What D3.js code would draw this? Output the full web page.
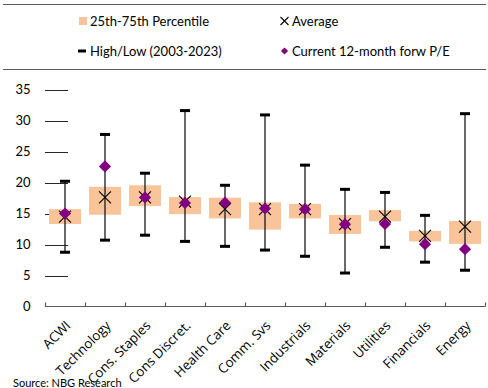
<!DOCTYPE html>
<html lang="en">
<head>
<meta charset="UTF-8">
<script src="https://d3js.org/d3.v7.min.js"></script>
<style>
    html, body { margin: 0; padding: 0; background: #fff; }
    svg text { font-family: 'Lato', sans-serif; fill: #000; }
    svg text.xlabel { font-family: 'Open Sans', sans-serif; }
</style>
</head>
<body>
<div id="chart"></div>
<script>

// values
var categories = ['ACWI', 'Technology', 'Cons. Staples', 'Cons Discret.', 'Health Care',
    'Comm. Svs', 'Industrials', 'Materials', 'Utilities', 'Financials', 'Energy'];
var p25 = [13.3, 14.8, 16.2, 14.9, 14.2, 12.4, 14.2, 11.7, 13.75, 10.5, 10.1];
var p75 = [15.7, 19.3, 19.55, 17.65, 17.55, 16.8, 16.55, 14.75, 15.55, 12.2, 13.8];
var high = [20.2, 27.75, 21.5, 31.6, 19.55, 30.9, 22.8, 18.9, 18.4, 14.7, 31.1];
var low = [8.75, 10.7, 11.5, 10.5, 9.7, 9.1, 8.1, 5.4, 9.55, 7.15, 5.85];
var average = [14.5, 17.6, 17.6, 16.9, 15.7, 15.7, 15.7, 13.3, 14.5, 11.4, 12.9];
var current = [15.0, 22.6, 17.6, 16.7, 16.75, 15.8, 15.7, 13.25, 13.3, 10.05, 9.25];
var yTicks = [0, 5, 10, 15, 20, 25, 30, 35];

var width = 488,
    height = 388;

var svg = d3.select('#chart')
    .append('svg')
    .attr('width', width)
    .attr('height', height);

var x_scale = d3.scaleBand()
    .domain(categories)
    .range([45, 485])
    .padding(0);

var y_scale = d3.scaleLinear()
    .domain([0, 35])
    .range([306.5, 89.5]);

var data = categories.map(function(c, i) {
    return {cat: c, p25: p25[i], p75: p75[i], high: high[i], low: low[i], avg: average[i], cur: current[i]};
});

// frame lines round the legend
svg.append('line').attr('x1', 3).attr('x2', 486).attr('y1', 4.5).attr('y2', 4.5)
    .attr('stroke', '#595959').attr('stroke-width', 1.2);
svg.append('line').attr('x1', 3).attr('x2', 486).attr('y1', 69.5).attr('y2', 69.5)
    .attr('stroke', '#595959').attr('stroke-width', 1.2);

// y ticks (short stubs like the original)
var yAxis = svg.append('g').attr('class', 'y axis');
yAxis.selectAll('.stub')
    .data(yTicks.filter(function(d) { return d > 0; }))
    .enter().append('line')
    .attr('x1', 45).attr('x2', 68)
    .attr('y1', function(d) { return Math.round(y_scale(d)) + 0.5; })
    .attr('y2', function(d) { return Math.round(y_scale(d)) + 0.5; })
    .attr('stroke', '#262626').attr('stroke-width', 1);
yAxis.selectAll('.lbl')
    .data(yTicks)
    .enter().append('text')
    .attr('x', 30.5)
    .attr('y', function(d) { return y_scale(d); })
    .attr('dy', '0.35em')
    .attr('text-anchor', 'end')
    .style('font-size', '13px')
    .text(function(d) { return d; });

// x axis
var x_axis = d3.axisBottom(x_scale).tickSize(0).tickFormat('');
var gx = svg.append('g')
    .attr('class', 'x axis')
    .attr('transform', 'translate(0,306.5)')
    .call(x_axis);
gx.select('.domain').remove();
gx.append('line').attr('x1', 45).attr('x2', 485.5).attr('y1', 0).attr('y2', 0)
    .attr('stroke', '#595959').attr('stroke-width', 1.2);
gx.selectAll('.sep')
    .data(categories.concat(['end']))
    .enter().append('line')
    .attr('x1', function(d, i) { return Math.round(x_scale.range()[0] + i * x_scale.bandwidth()) + 0.5; })
    .attr('x2', function(d, i) { return Math.round(x_scale.range()[0] + i * x_scale.bandwidth()) + 0.5; })
    .attr('y1', 0).attr('y2', -4)
    .attr('stroke', '#595959').attr('stroke-width', 1.2);

svg.selectAll('.xlabel')
    .data(categories)
    .enter().append('text')
    .attr('class', 'xlabel')
    .attr('text-anchor', 'end')
    .attr('transform', function(d) {
        return 'translate(' + (x_scale(d) + x_scale.bandwidth() / 2 + 6.5) + ',326.5) rotate(-45)';
    })
    .style('font-size', '13.3px')
    .text(function(d) { return d; });

// boxes
var bw = x_scale.bandwidth() * 0.8;
svg.selectAll('.bar')
    .data(data)
    .enter().append('rect')
    .attr('class', 'bar')
    .attr('x', function(d) { return x_scale(d.cat) + (x_scale.bandwidth() - bw) / 2; })
    .attr('width', bw)
    .attr('y', function(d) { return y_scale(d.p75); })
    .attr('height', function(d) { return y_scale(d.p25) - y_scale(d.p75); })
    .attr('fill', '#F9C49A');

// high/low lines
function cx(d) { return x_scale(d.cat) + x_scale.bandwidth() / 2; }
svg.selectAll('.whisker')
    .data(data)
    .enter().append('line')
    .attr('class', 'whisker')
    .attr('x1', cx).attr('x2', cx)
    .attr('y1', function(d) { return y_scale(d.high); })
    .attr('y2', function(d) { return y_scale(d.low); })
    .attr('stroke', '#1a1a1a').attr('stroke-width', 1.3);

var caps = [];
data.forEach(function(d) { caps.push({d: d, v: d.high}); caps.push({d: d, v: d.low}); });
svg.selectAll('.cap')
    .data(caps)
    .enter().append('rect')
    .attr('class', 'cap')
    .attr('x', function(c) { return cx(c.d) - 5; })
    .attr('y', function(c) { return y_scale(c.v) - 1.5; })
    .attr('width', 10)
    .attr('height', 3)
    .attr('fill', '#000');

// average crosses
var cross = 'M-6,-6L6,6M-6,6L6,-6';
svg.selectAll('.avg')
    .data(data)
    .enter().append('path')
    .attr('class', 'avg')
    .attr('d', cross)
    .attr('transform', function(d) { return 'translate(' + cx(d) + ',' + y_scale(d.avg) + ')'; })
    .attr('stroke', '#000').attr('stroke-width', 1.1).attr('fill', 'none');

// current forward P/E diamonds
var diamond = d3.symbol().type(d3.symbolSquare).size(74);
svg.selectAll('.cur')
    .data(data)
    .enter().append('path')
    .attr('class', 'cur')
    .attr('d', diamond)
    .attr('transform', function(d) { return 'translate(' + cx(d) + ',' + y_scale(d.cur) + ') rotate(45)'; })
    .attr('fill', '#800080');

// legend
var legend = svg.append('g').attr('class', 'legend');
legend.append('rect').attr('x', 79).attr('y', 17).attr('width', 8).attr('height', 8).attr('fill', '#F9C49A');
legend.append('text').attr('x', 90).attr('y', 25.5).style('font-size', '13px').text('25th-75th Percentile');
legend.append('rect').attr('x', 78).attr('y', 49.5).attr('width', 8).attr('height', 3).attr('fill', '#000');
legend.append('text').attr('x', 90).attr('y', 55.5).style('font-size', '13px').text('High/Low (2003-2023)');
legend.append('path').attr('d', 'M-4,-4L4,4M-4,4L4,-4')
    .attr('transform', 'translate(284.5,21)')
    .attr('stroke', '#000').attr('stroke-width', 1.1);
legend.append('text').attr('x', 292).attr('y', 25.5).style('font-size', '13px').text('Average');
legend.append('path').attr('d', d3.symbol().type(d3.symbolSquare).size(26))
    .attr('transform', 'translate(284.5,51) rotate(45)')
    .attr('fill', '#800080');
legend.append('text').attr('x', 292).attr('y', 55.5).style('font-size', '13px').text('Current 12-month forw P/E');

svg.append('text')
    .attr('x', 13)
    .attr('y', 387)
    .style('font-size', '11px')
    .text('Source: NBG Research');

</script>
</body>
</html>
